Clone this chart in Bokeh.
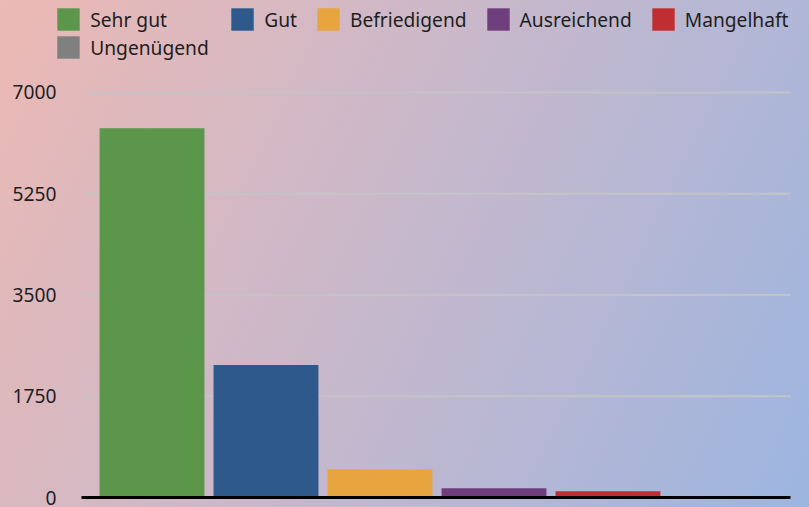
from bokeh.plotting import figure
from bokeh.models import Range1d, FixedTicker, Legend, LegendItem, ColumnDataSource
from bokeh.embed import file_html
from bokeh.resources import INLINE

categories = ["Sehr gut", "Gut", "Befriedigend", "Ausreichend", "Mangelhaft", "Ungenügend"]
counts = [6380, 2290, 490, 160, 110, 0]
colors = ["#5c964a", "#2d598b", "#e8a43f", "#6f3e7d", "#bf2f32", "#808080"]
y_ticks = [0, 1750, 3500, 5250, 7000]

FONT = "Noto Sans"
FS = "19.2px"

# plot-area extent in data units (x: category index, y: count)
X_START, X_END = -0.829, 5.689
GRID_X0, GRID_X1 = -0.592, 5.601
AXIS_X0 = -0.618
Y_END = 8590

p = figure(width=809, height=507, output_backend="svg", toolbar_location=None,
           x_range=Range1d(X_START, X_END), y_range=Range1d(0, Y_END),
           min_border_left=57, min_border_right=9, min_border_top=0, min_border_bottom=10)
p.styles = {"background": "linear-gradient(116deg, #ecb9b4 0%, #c6b8cc 50%, #9cb5e0 100%)"}
p.background_fill_alpha = 0
p.border_fill_alpha = 0
p.outline_line_color = None

# horizontal grid lines (only across the plotting area)
n_grid = len(y_ticks) - 1
grid_src = ColumnDataSource(dict(y=y_ticks[1:], x0=[GRID_X0] * n_grid, x1=[GRID_X1] * n_grid))
p.segment(x0="x0", x1="x1", y0="y", y1="y", source=grid_src, line_color="#c4c4c8", line_width=2)

renderers = []
for i, (cat, val, col) in enumerate(zip(categories, counts, colors)):
    src = ColumnDataSource(dict(x=[i], top=[val]))
    r = p.vbar(x="x", top="top", bottom=0, width=0.92, color=col, line_color=None, source=src)
    renderers.append(r)

# axes
p.yaxis.ticker = FixedTicker(ticks=y_ticks)
p.yaxis.axis_line_color = None
p.yaxis.major_tick_line_color = None
p.yaxis.minor_tick_line_color = None
p.yaxis.major_tick_out = 0
p.yaxis.major_tick_in = 0
p.yaxis.major_label_standoff = 1
p.yaxis.major_label_text_font = FONT
p.yaxis.major_label_text_font_size = FS
p.yaxis.major_label_text_color = "#1e1e1e"

p.xaxis.ticker = FixedTicker(ticks=[])
p.xaxis.bounds = (AXIS_X0, GRID_X1)
p.xaxis.axis_line_color = "black"
p.xaxis.axis_line_width = 3
p.xaxis.major_tick_line_color = None
p.xaxis.minor_tick_line_color = None
p.xaxis.major_tick_out = 0
p.xaxis.major_label_text_font_size = "0px"
p.xaxis.major_label_standoff = 0

p.xgrid.grid_line_color = None
p.ygrid.grid_line_color = None


def make_legend(items, orientation, loc, spacing):
    lg = Legend(items=items, orientation=orientation, location=loc, spacing=spacing,
                padding=0, margin=0, glyph_width=28, glyph_height=28, label_standoff=8,
                label_text_font=FONT, label_text_font_size=FS, label_text_color="#1e1e1e",
                border_line_alpha=0, background_fill_alpha=0)
    return lg


items_a = [LegendItem(label=categories[0], renderers=[renderers[0]]),
           LegendItem(label=categories[5], renderers=[renderers[5]])]
items_b = [LegendItem(label=categories[k], renderers=[renderers[k]]) for k in range(1, 5)]

leg_a = make_legend(items_a, "vertical", (-2.8, 435.8), 0)
leg_b = make_legend(items_b, "horizontal", (171.2, 463.8), 17)
p.add_layout(leg_a, "center")
p.add_layout(leg_b, "center")

open("out.html", "w").write(file_html(p, INLINE))
